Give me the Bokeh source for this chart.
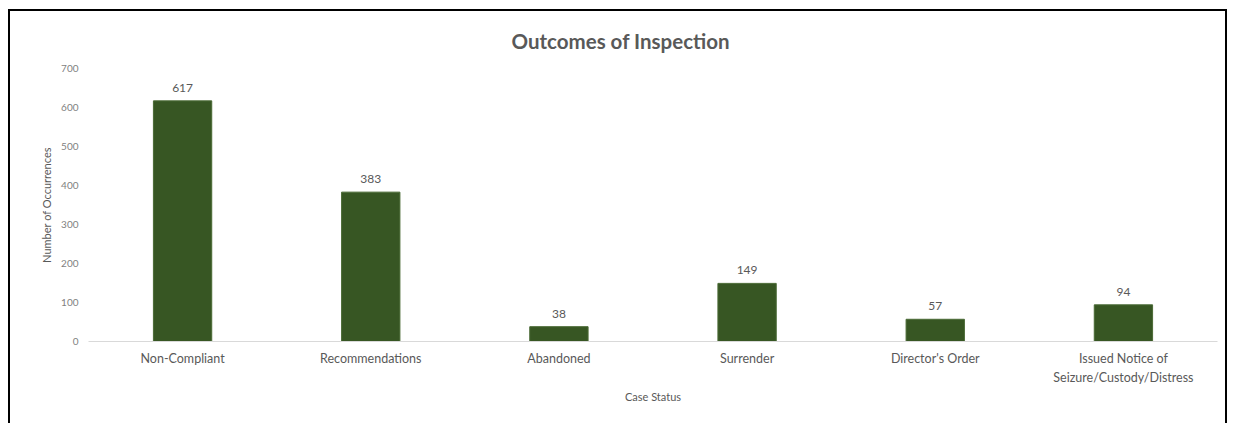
from bokeh.plotting import figure
from bokeh.models import (ColumnDataSource, FactorRange, Range1d, FixedTicker,
                          CategoricalAxis, CustomJSTickFormatter)
from bokeh.core.properties import value
from bokeh.embed import file_html
from bokeh.resources import INLINE

# ---- data ----
categories = ["Non-Compliant", "Recommendations", "Abandoned", "Surrender",
              "Director's Order", "Issued Notice of Seizure/Custody/Distress"]
tick_labels_line1 = ["Non-Compliant", "Recommendations", "Abandoned", "Surrender",
                     "Director's Order", "Issued Notice of"]
tick_labels_line2 = ["", "", "", "", "", "Seizure/Custody/Distress"]
occurrences = [617, 383, 38, 149, 57, 94]
y_ticks = [0, 100, 200, 300, 400, 500, 600, 700]

FONT = "Lato"
GRAY = "#595959"
GREEN = "#375623"

src = ColumnDataSource(dict(cat=categories, val=occurrences,
                            lbl=[str(v) for v in occurrences]))

p = figure(width=1219, height=414, output_backend="svg", toolbar_location=None,
           x_range=FactorRange(*categories, range_padding=0),
           y_range=Range1d(0, 700),
           min_border_left=78, min_border_right=12,
           min_border_top=57, min_border_bottom=84)
p.styles = {"border-top": "2.5px solid black",
            "border-left": "2.5px solid black",
            "border-right": "2.5px solid black"}
p.margin = (9, 0, 0, 8)
p.outline_line_color = None
p.background_fill_color = "white"
p.border_fill_color = "white"
p.xgrid.visible = False
p.ygrid.visible = False

p.title.text = "Outcomes of Inspection"
p.title.align = "left"
p.title.vertical_align = "bottom"
p.title.offset = 423
p.title.text_font = FONT
p.title.text_font_size = "20.5px"
p.title.text_font_style = "bold"
p.title.text_color = GRAY
p.title.standoff = 31

p.vbar(x="cat", top="val", width=0.31, source=src,
       fill_color=GREEN, line_color="#4a6a35", line_width=1)
p.text(x="cat", y="val", text="lbl", source=src, y_offset=-9,
       text_align="center", text_baseline="bottom",
       text_font=value(FONT), text_font_size="12px", text_color=GRAY)

# y axis
ya = p.yaxis[0]
ya.ticker = FixedTicker(ticks=y_ticks)
ya.axis_line_color = None
ya.major_tick_line_color = None
ya.minor_tick_line_color = None
ya.major_tick_out = 0
ya.major_tick_in = 0
ya.major_label_text_font = FONT
ya.major_label_text_font_size = "10px"
ya.major_label_text_color = "#7f7f7f"
ya.major_label_standoff = 10
ya.axis_label = "Number of Occurrences"
ya.axis_label_text_font = FONT
ya.axis_label_text_font_size = "11px"
ya.axis_label_text_font_style = "normal"
ya.axis_label_text_color = GRAY
ya.axis_label_standoff = 5

JS = "const i = cats.indexOf(tick); return i >= 0 ? labels[i] : tick;"

# x axis (first line of tick labels)
xa = p.xaxis[0]
xa.axis_line_color = "#d9d9d9"
xa.axis_line_width = 1
xa.major_tick_line_color = None
xa.minor_tick_line_color = None
xa.major_tick_out = 0
xa.major_tick_in = 0
xa.formatter = CustomJSTickFormatter(args=dict(cats=categories, labels=tick_labels_line1), code=JS)
xa.major_label_text_font = FONT
xa.major_label_text_font_size = "12.5px"
xa.major_label_text_color = GRAY
xa.major_label_standoff = 9

# second line of tick labels + axis title
xa2 = CategoricalAxis()
xa2.axis_line_color = None
xa2.major_tick_line_color = None
xa2.minor_tick_line_color = None
xa2.major_tick_out = 0
xa2.major_tick_in = 0
xa2.formatter = CustomJSTickFormatter(args=dict(cats=categories, labels=tick_labels_line2), code=JS)
xa2.major_label_text_font = FONT
xa2.major_label_text_font_size = "12.5px"
xa2.major_label_text_color = GRAY
xa2.major_label_standoff = 1
xa2.axis_label = "Case Status"
xa2.axis_label_text_font = FONT
xa2.axis_label_text_font_size = "11px"
xa2.axis_label_text_font_style = "normal"
xa2.axis_label_text_color = GRAY
xa2.axis_label_standoff = 2
p.add_layout(xa2, "below")

open("out.html", "w").write(file_html(p, INLINE))
